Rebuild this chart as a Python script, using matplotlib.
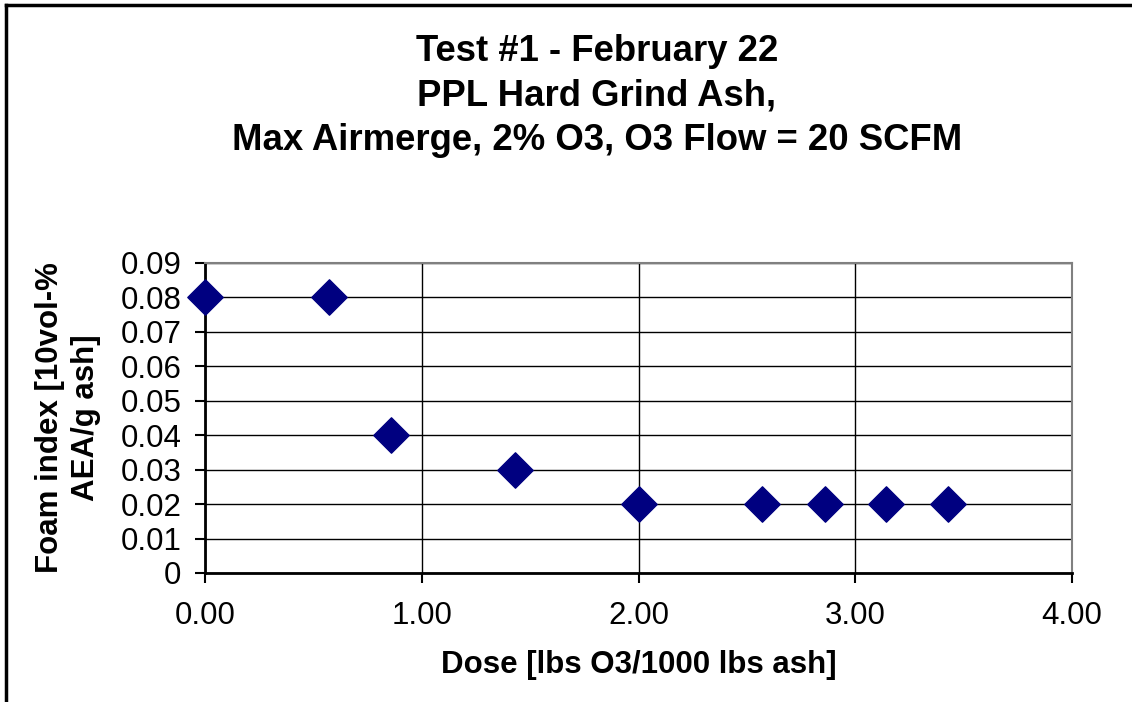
import matplotlib
matplotlib.use("Agg")
import matplotlib.pyplot as plt
from matplotlib.lines import Line2D

dose = [0.0, 0.57, 0.86, 1.43, 2.0, 2.57, 2.86, 3.14, 3.43]
foam = [0.08, 0.08, 0.04, 0.03, 0.02, 0.02, 0.02, 0.02, 0.02]
xticks = [0, 1, 2, 3, 4]
xticklabels = ["0.00", "1.00", "2.00", "3.00", "4.00"]
yticks = [0, 0.01, 0.02, 0.03, 0.04, 0.05, 0.06, 0.07, 0.08, 0.09]
yticklabels = ["0", "0.01", "0.02", "0.03", "0.04", "0.05", "0.06", "0.07", "0.08", "0.09"]

plt.rcParams['font.family'] = ['Liberation Sans', 'DejaVu Sans']

fig = plt.figure(figsize=(11.32, 7.02), dpi=100)
ax = fig.add_axes([205/1132, 1-573/702, (1072-205)/1132, (573-263)/702])

ax.scatter(dose, foam, marker='D', s=18**2, color='#000080', zorder=5, clip_on=False)

ax.set_xlim(0, 4)
ax.set_ylim(0, 0.09)
ax.set_xticks(xticks)
ax.set_xticklabels(xticklabels)
ax.set_yticks(yticks)
ax.set_yticklabels(yticklabels)
ax.tick_params(axis='both', labelsize=22.5, direction='out', length=7, width=1.5, color='black')
ax.tick_params(axis='x', pad=13)
ax.tick_params(axis='y', pad=10)
ax.grid(True, color='black', linewidth=1)
ax.set_axisbelow(True)
for s in ['left', 'bottom']:
    ax.spines[s].set_linewidth(2)
    ax.spines[s].set_color('black')
for s in ['top', 'right']:
    ax.spines[s].set_linewidth(1.5)
    ax.spines[s].set_color('#808080')

ax.set_xlabel("Dose [lbs O3/1000 lbs ash]", fontsize=22.5, fontweight='bold', labelpad=14)
ax.set_ylabel("Foam index [10vol-%\nAEA/g ash]", fontsize=22.5, fontweight='bold', labelpad=14, linespacing=1.25)

fig.text(597/1132, 1-96/702, "Test #1 - February 22\nPPL Hard Grind Ash,\nMax Airmerge, 2% O3, O3 Flow = 20 SCFM",
         ha='center', va='center', fontsize=26.3, fontweight='bold', linespacing=1.34)

# figure border (top and left visible)
fig.add_artist(Line2D([6/1132, 6/1132], [0, 1-5/702], transform=fig.transFigure, color='black', linewidth=2.5))
fig.add_artist(Line2D([6/1132, 1], [1-5/702, 1-5/702], transform=fig.transFigure, color='black', linewidth=2.5))

fig.savefig("out.png", dpi=100)
